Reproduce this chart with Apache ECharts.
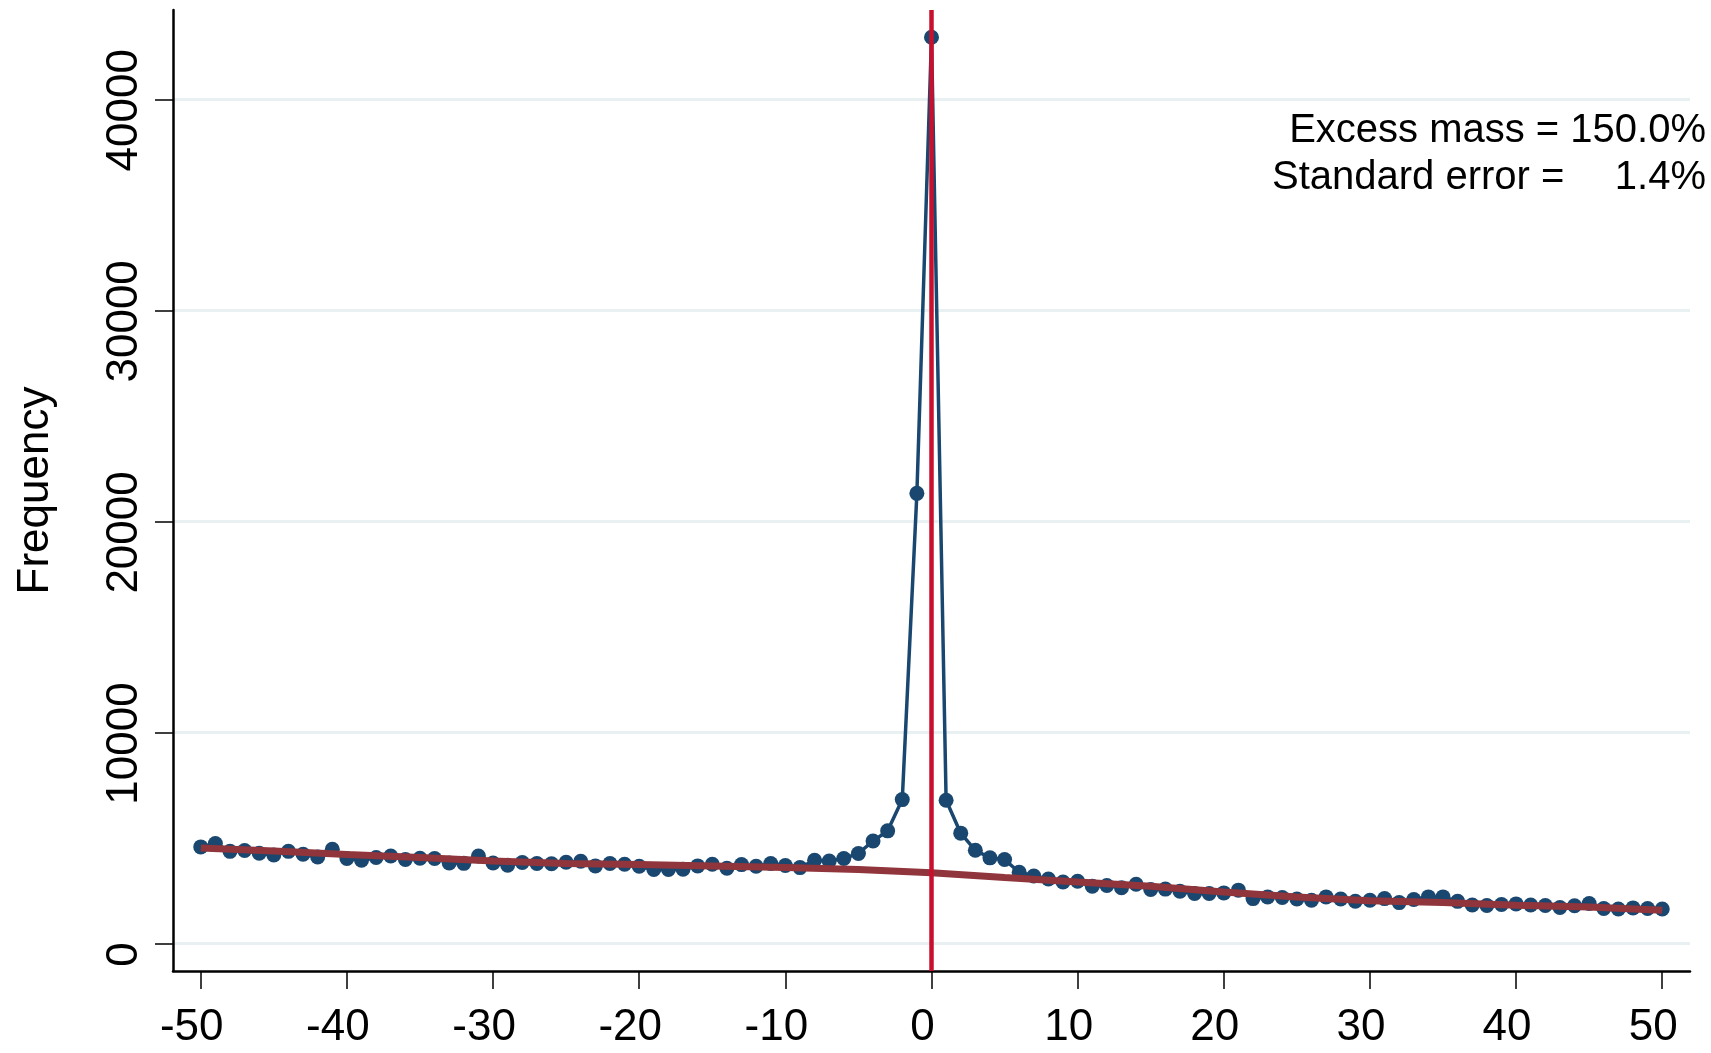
<!DOCTYPE html>
<html>
<head>
<meta charset="utf-8">
<script src="https://cdn.jsdelivr.net/npm/echarts@6/dist/echarts.min.js"></script>
<style>
html,body{margin:0;padding:0;background:#fff;}
#chart{width:1711px;height:1053px;}
</style>
</head>
<body>
<div id="chart"></div>
<script>
// bins (x values)
var bins = [-50,-49,-48,-47,-46,-45,-44,-43,-42,-41,-40,-39,-38,-37,-36,-35,-34,-33,-32,-31,
  -30,-29,-28,-27,-26,-25,-24,-23,-22,-21,-20,-19,-18,-17,-16,-15,-14,-13,-12,-11,
  -10,-9,-8,-7,-6,-5,-4,-3,-2,-1,0,1,2,3,4,5,6,7,8,9,
  10,11,12,13,14,15,16,17,18,19,20,21,22,23,24,25,26,27,28,29,
  30,31,32,33,34,35,36,37,38,39,40,41,42,43,44,45,46,47,48,49,50];
// observed frequencies
var frequency = [4580,4740,4370,4410,4280,4200,4370,4230,4100,4470,
  4030,3950,4080,4150,3980,4040,4030,3820,3800,4150,
  3820,3710,3840,3790,3780,3850,3900,3680,3790,3760,
  3660,3510,3510,3520,3680,3760,3570,3740,3660,3790,
  3700,3600,3950,3910,4030,4270,4860,5340,6820,21330,
  42940,6790,5230,4420,4060,3980,3380,3200,3060,2920,
  2950,2720,2750,2650,2810,2560,2580,2480,2370,2370,
  2400,2530,2130,2210,2180,2110,2050,2210,2110,2005,
  2050,2130,1940,2090,2210,2210,2000,1830,1800,1850,
  1880,1830,1800,1710,1790,1900,1660,1640,1690,1660,1640];
// counterfactual (polynomial fit) read at every 5 units
var fitX = [-50,-45,-40,-35,-30,-25,-20,-15,-10,-5,0,5,10,15,20,25,30,35,40,45,50];
var fitY = [4530,4380,4220,4075,3915,3790,3740,3680,3600,3510,3350,3130,2920,2715,2445,2210,2030,1945,1815,1735,1580];
// axis ticks
var xTicks = [-50,-40,-30,-20,-10,0,10,20,30,40,50];
var yTicks = [0,10000,20000,30000,40000];
var cutoff = [0];
var annotLine1 = 'Excess mass = 150.0%';
var annotLine2a = 'Standard error =';
var annotLine2b = '1.4%';

var FONT = '"Liberation Sans", Arial, Helvetica, sans-serif';
var chart = echarts.init(document.getElementById('chart'), null, {renderer:'canvas'});

var obsData = bins.map(function(b,i){return [b, frequency[i]];});
var fitData = fitX.map(function(b,i){return [b, fitY[i]];});

chart.setOption({
  animation:false,
  backgroundColor:'#ffffff',
  grid:{left:173, right:21, top:10, bottom:82, containLabel:false, outerBoundsMode:'none'},
  xAxis:{
    type:'value', min:-51.9, max:51.9,
    axisLine:{show:true, onZero:false, lineStyle:{color:'#000', width:2.5}},
    axisTick:{show:true, length:18, customValues:xTicks, lineStyle:{color:'#000', width:1.5}},
    axisLabel:{show:true, customValues:xTicks, fontSize:44, color:'#000', fontFamily:FONT, margin:35,
      padding:[0,18,0,0],
      formatter:function(v){return String(v);}},
    splitLine:{show:false}
  },
  yAxis:{
    type:'value', min:-1300, max:44230,
    name:'Frequency', nameLocation:'middle', nameRotate:90, nameGap:115,
    nameTextStyle:{fontSize:44, color:'#000', fontFamily:FONT},
    axisLine:{show:true, onZero:false, lineStyle:{color:'#000', width:2.5}},
    axisTick:{show:true, length:18, customValues:yTicks, lineStyle:{color:'#000', width:1.5}},
    axisLabel:{show:true, customValues:yTicks, rotate:90, fontSize:44, color:'#000', fontFamily:FONT, margin:26,
      padding:[0,22,0,0],
      formatter:function(v){return String(v);}},
    splitLine:{show:true, lineStyle:{color:'#e8f0f2', width:3}}
  },
  series:[
    {
      type:'line', data:[], z:1, silent:true,
      markLine:{silent:true, symbol:'none', label:{show:false},
        lineStyle:{color:'#c8102e', width:4.5, type:'solid'},
        data: cutoff.map(function(c){return {xAxis:c};})}
    },
    {
      type:'line', data:obsData, z:3, silent:true,
      symbol:'circle', symbolSize:15,
      lineStyle:{color:'#1a476f', width:3.5},
      itemStyle:{color:'#1a476f'}
    },
    {
      type:'line', data:fitData, z:4, silent:true,
      symbol:'none', smooth:false,
      lineStyle:{color:'#90353b', width:7}
    }
  ],
  graphic:[
    {type:'text', right:5, top:111, z:10,
      style:{text:annotLine1, font:'40px ' + FONT, fill:'#000', textAlign:'right'}},
    {type:'text', left:1272, top:158, z:10,
      style:{text:annotLine2a, font:'40px ' + FONT, fill:'#000'}},
    {type:'text', right:5, top:158, z:10,
      style:{text:annotLine2b, font:'40px ' + FONT, fill:'#000', textAlign:'right'}}
  ]
});
</script>
</body>
</html>
